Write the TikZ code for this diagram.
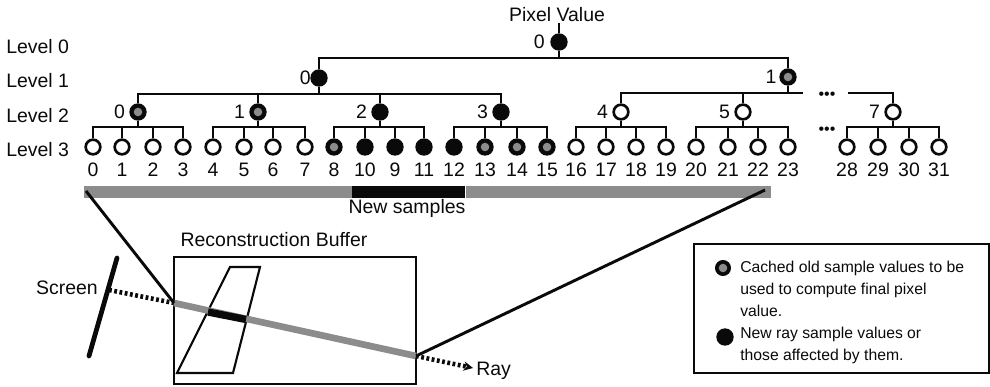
\documentclass[tikz,border=0pt]{standalone}
\usepackage{fontspec}
\setmainfont{Liberation Sans}
\usepackage{xcolor}
\usetikzlibrary{arrows.meta,positioning,calc}
\definecolor{ink}{HTML}{0A0A0A}
\definecolor{hatch}{HTML}{8C8C8C}
\tikzset{
  txt/.style={inner sep=0pt, font=\fontsize{14.6}{17}\selectfont, text=ink},
  wire/.style={draw=ink, line width=1.9pt},
  openleaf/.style={circle, draw=ink, line width=2pt, fill=white, minimum size=11pt, inner sep=0pt},
  newleaf/.style={openleaf, fill=ink},
  oldleaf/.style={newleaf, path picture={\fill[hatch] (path picture bounding box.center) circle (3.2pt);}},
  raydash/.style={ink, line width=3.4pt, dash pattern=on 2.1pt off 1.9pt},
}
\begin{document}
\begin{tikzpicture}[x=0.75pt, y=-0.75pt]
  \useasboundingbox (0,0) rectangle (990,386);
  % level labels
  \foreach \lv/\yy in {0/47, 1/81, 2/116, 3/150}
    \node[txt, anchor=west] (level\lv) at (6,\yy) {Level \lv};

  % level 3 samples
  \foreach \id/\xx/\kind in {0/93/openleaf, 1/122/openleaf, 2/153/openleaf, 3/183/openleaf,
      4/213/openleaf, 5/244/openleaf, 6/273/openleaf, 7/305/openleaf,
      8/334/oldleaf, 10/365/newleaf, 9/395/newleaf, 11/424/newleaf,
      12/454/newleaf, 13/485/oldleaf, 14/517/oldleaf, 15/547/oldleaf,
      16/576/openleaf, 17/606/openleaf, 18/636/openleaf, 19/666/openleaf,
      20/696/openleaf, 21/728/openleaf, 22/758/openleaf, 23/788/openleaf,
      28/847/openleaf, 29/878/openleaf, 30/909/openleaf, 31/939/openleaf} {
    \node[\kind] (leaf\id) at (\xx,147) {};
    \node[txt] (num\id) at (\xx,170) {\id};
  }

  % level 2 nodes, their labels and the buses under them
  \foreach \id/\xx/\kind in {0/138/oldleaf, 1/258/oldleaf, 2/380/newleaf, 3/501/newleaf,
      4/621/openleaf, 5/743/openleaf, 7/893/openleaf} {
    \node[\kind] (mid\id) at (\xx,112) {};
    \node[txt, left=3pt of mid\id] (midnum\id) {\id};
    \coordinate (bus\id) at (\xx,127);
    \draw[wire] (mid\id) -- (bus\id);
  }
  \foreach \id/\a/\b/\c/\d in {0/0/1/2/3, 1/4/5/6/7, 2/8/10/9/11, 3/12/13/14/15,
      4/16/17/18/19, 5/20/21/22/23, 7/28/29/30/31}
    \foreach \kid in {\a,\b,\c,\d}
      \draw[wire] (leaf\kid.north) |- (bus\id);

  % level 1
  \node[newleaf] (upa) at (319,78) {};
  \node[oldleaf] (upb) at (788,77) {};
  \node[txt, left=-0.5pt of upa] (upanum) {0};
  \node[txt, left=2pt of upb] (upbnum) {1};
  \coordinate (busa) at (319,94);
  \coordinate (busb) at (788,93);
  \coordinate (busbend) at (803,93);
  \coordinate (busbrest) at (848,93);
  \draw[wire] (upa) -- (busa);
  \draw[wire] (upb) -- (busb);
  \foreach \id in {0,1,2,3}
    \draw[wire] (mid\id.north) |- (busa);
  \foreach \id in {4,5}
    \draw[wire] (mid\id.north) |- (busb);
  \draw[wire] (busb) -- (busbend);
  \draw[wire] (mid7.north) |- (busbrest);
  \node[txt, font=\fontsize{12}{12}\selectfont] (gapa) at (827,96) {•••};
  \node[txt, font=\fontsize{12}{12}\selectfont] (gapb) at (827,131) {•••};

  % root
  \node[newleaf] (root) at (559,42) {};
  \node[txt, left=4pt of root] (rootnum) {0};
  \node[txt] (pixel) at (557,15) {Pixel Value};
  \coordinate (rootin) at (559,23);
  \coordinate (busroot) at (559,58);
  \draw[wire] (rootin) -- (root);
  \draw[wire] (root) -- (busroot);
  \draw[wire] (upa.north) |- (busroot);
  \draw[wire] (upb.north) |- (busroot);

  % sample strip
  \fill[hatch] (84,186) rectangle (352,198);
  \fill[ink] (352,186) rectangle (465,198);
  \fill[hatch] (466,186) rectangle (771,198);
  \node[txt] (newsamples) at (407,208) {New samples};

  % buffer and ray
  \node[txt] (buftitle) at (274,240) {Reconstruction Buffer};
  \node[draw=ink, line width=1.5pt, minimum width=181.5pt, minimum height=95pt, inner sep=0pt] (buffer) at (295,320.5) {};
  \draw[ink, line width=1.6pt] (230,267) -- (260,267) -- (233,373) -- (177,373) -- cycle;
  \coordinate (rayin) at (174,303);
  \coordinate (rayout) at (416,356);
  \coordinate (rayend) at (473,368);
  \node[txt, anchor=west] (raylabel) at (476,371) {Ray};
  \coordinate (scrA) at (117,258);
  \coordinate (scrB) at (89,356);
  \coordinate (raystart) at (109,290);
  \draw[ink, line width=3.6pt, line cap=round] (scrA) -- (scrB);
  \node[txt, anchor=east] (screen) at (98,288) {Screen};
  \draw[raydash] (raystart) -- (rayin);
  \draw[hatch, line width=5pt] (rayin) -- (rayout);
  \draw[ink, line width=5.5pt] (208,312) -- (246,319.5);
  \draw[raydash, -{Stealth[length=7pt,width=7pt]}] (rayout) -- (rayend);
  \coordinate (stripL) at (86,191);
  \coordinate (stripR) at (765,190);
  \draw[ink, line width=2.2pt] (stripL) -- (rayin);
  \draw[ink, line width=2.2pt] (stripR) -- (rayout);

  % legend
  \node[draw=ink, line width=1.5pt, minimum width=221pt, minimum height=96.5pt, inner sep=0pt] (legend) at (841.5,308.5) {};
  \node[oldleaf, minimum size=10pt] (legold) at (723,268) {};
  \node[newleaf, minimum size=11pt] (legnew) at (725,337) {};
  \node[txt, anchor=north west, align=left, font=\fontsize{11.8}{16.4}\selectfont] (legtext) at (740,261) {%
    Cached old sample values to be\\used to compute final pixel\\value.\\New ray sample values or\\those affected by them.};
\end{tikzpicture}
\end{document}
